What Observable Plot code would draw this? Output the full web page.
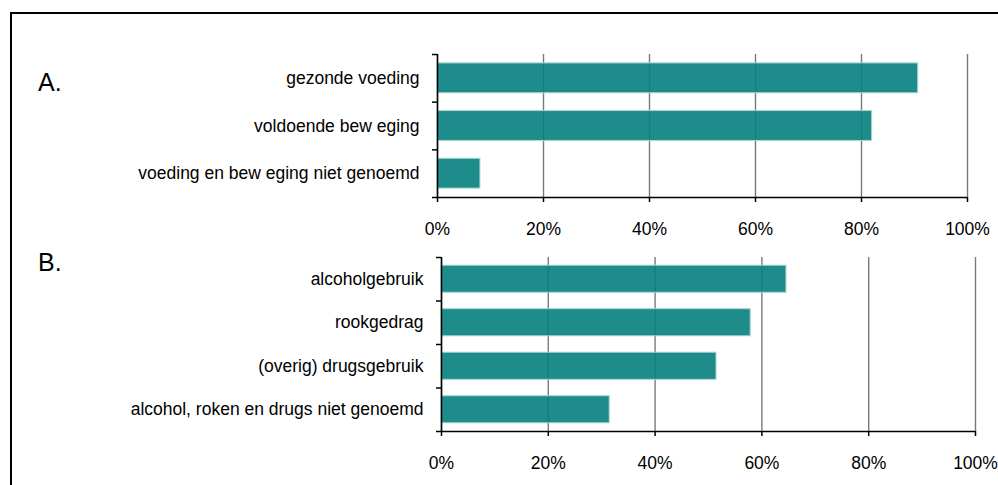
<!DOCTYPE html>
<html>
<head>
<meta charset="utf-8">
<script src="https://cdn.jsdelivr.net/npm/d3@7"></script>
<script src="https://cdn.jsdelivr.net/npm/@observablehq/plot@0.6"></script>
<style>
  html, body { margin: 0; padding: 0; background: #fff; }
  #wrap { position: relative; width: 998px; height: 485px; overflow: hidden; font-family: "Liberation Sans", Arial, sans-serif; }
  #frame { position: absolute; left: 10px; top: 12px; width: 1100px; height: 600px; border: 2px solid #000; box-sizing: border-box; }
  .plabel { position: absolute; font-size: 25px; line-height: 1; color: #000; }
  .pl { position: absolute; left: 0; }
</style>
</head>
<body>
<div id="wrap">
  <div id="frame"></div>
  <div id="panelA" class="pl" style="top:0px"></div>
  <div id="panelB" class="pl" style="top:240px"></div>
  <div class="plabel" style="left:38px; top:70px">A.</div>
  <div class="plabel" style="left:38px; top:250px">B.</div>
</div>
<script>
const xTicks = [0, 20, 40, 60, 80, 100];

const catsA = ["gezonde voeding", "voldoende bew eging", "voeding en bew eging niet genoemd"];
const valsA = [90.7, 82.0, 8.1];

const catsB = ["alcoholgebruik", "rookgedrag", "(overig) drugsgebruik", "alcohol, roken en drugs niet genoemd"];
const valsB = [64.6, 57.9, 51.5, 31.5];

function panel({cats, vals, height, ml, mr, mt, mb, inset}) {
  const rows = cats.map((c, i) => ({cat: c, value: vals[i], i}));
  return Plot.plot({
    width: 998,
    height,
    marginLeft: ml,
    marginRight: mr,
    marginTop: mt,
    marginBottom: mb,
    style: {background: "transparent", fontFamily: "'Liberation Sans', Arial, sans-serif", fontSize: "17.5px", color: "#000", overflow: "visible"},
    x: {domain: [0, 100], label: null},
    y: {domain: [0, cats.length], reverse: true, label: null},
    marks: [
      Plot.gridX(xTicks, {stroke: "#7a7a7a", strokeOpacity: 1, strokeWidth: 1.4}),
      Plot.rectX(rows, {x1: 0, x2: "value", y1: "i", y2: d => d.i + 1, insetTop: inset, insetBottom: inset,
        fill: "#057f7d", fillOpacity: 0.9, stroke: "#a8d6d4", strokeWidth: 1}),
      Plot.ruleX([0], {stroke: "#000", strokeWidth: 1.5}),
      Plot.ruleY([cats.length], {stroke: "#000", strokeWidth: 1.5}),
      Plot.axisX(xTicks, {tickFormat: d => d + "%", tickSize: 5, tickPadding: 20, stroke: "#000", strokeWidth: 1.5, fill: "#000"}),
      Plot.axisY(rows.map(r => r.i + 0.5), {tickFormat: v => cats[Math.floor(v)], tickSize: 0, tickPadding: 18, fill: "#000"}),
      Plot.axisY(d3.range(cats.length + 1), {tickFormat: () => "", tickSize: 5, stroke: "#000", strokeWidth: 1.5})
    ]
  });
}

document.getElementById("panelA").append(panel({cats: catsA, vals: valsA, height: 240, ml: 437, mr: 31, mt: 54, mb: 43, inset: 8.9}));
document.getElementById("panelB").append(panel({cats: catsB, vals: valsB, height: 245, ml: 441, mr: 23, mt: 17, mb: 54, inset: 8.2}));
</script>
</body>
</html>
